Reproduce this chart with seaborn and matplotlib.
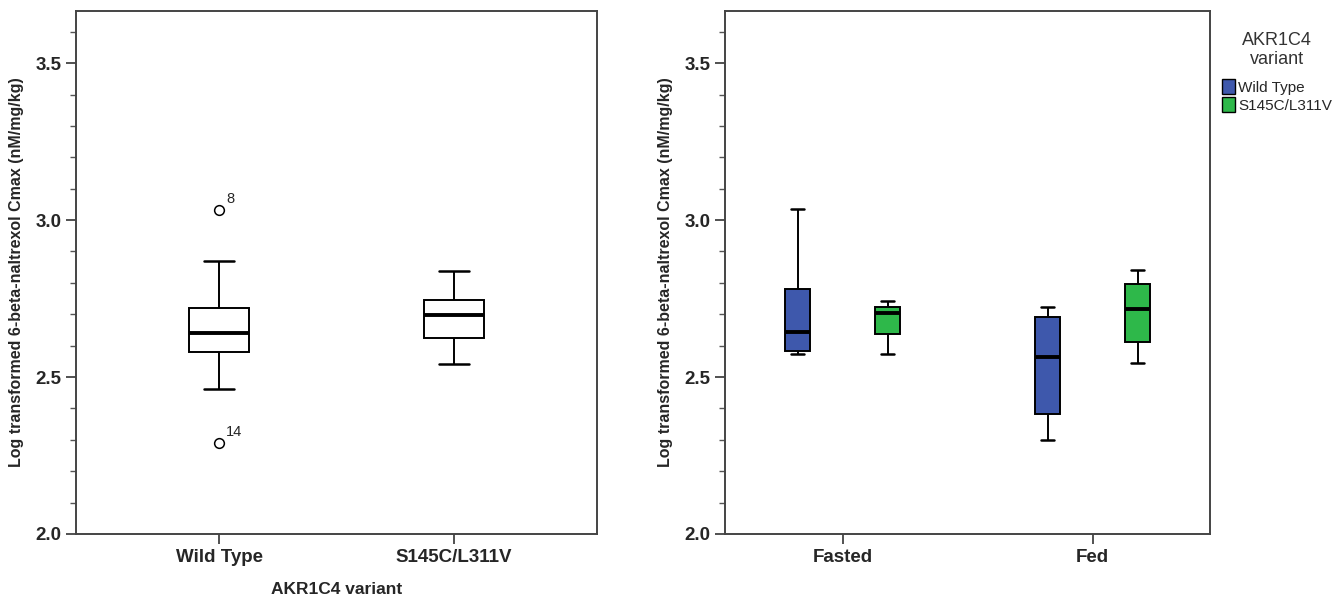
import numpy as np
import pandas as pd
import matplotlib
matplotlib.use("Agg")
import matplotlib.pyplot as plt
from matplotlib.ticker import MultipleLocator
from matplotlib.patches import Patch
import seaborn as sns

# left panel: all subjects by variant
variants = ["Wild Type", "S145C/L311V"]
wt_all = [2.290, 2.462, 2.580, 2.610, 2.640, 2.680, 2.720, 2.869, 3.032]
mut_all = [2.541, 2.624, 2.697, 2.745, 2.838]
outlier_ids = {"8": 3.032, "14": 2.290}

# right panel: by condition and variant
conditions = ["Fasted", "Fed"]
fasted_wt = [2.573, 2.583, 2.643, 2.780, 3.035]
fasted_mut = [2.573, 2.637, 2.704, 2.723, 2.742]
fed_wt = [2.299, 2.382, 2.564, 2.691, 2.723]
fed_mut = [2.545, 2.611, 2.717, 2.796, 2.841]

colors = ["#3E58AC", "#2EB84A"]
ylabel = "Log transformed 6-beta-naltrexol Cmax (nM/mg/kg)"

left_df = pd.DataFrame({
    "variant": [variants[0]] * len(wt_all) + [variants[1]] * len(mut_all),
    "cmax": wt_all + mut_all,
})

rows = []
for cond, wt, mut in [(conditions[0], fasted_wt, fasted_mut), (conditions[1], fed_wt, fed_mut)]:
    rows += [(cond, variants[0], v) for v in wt]
    rows += [(cond, variants[1], v) for v in mut]
right_df = pd.DataFrame(rows, columns=["condition", "variant", "cmax"])

sns.set_style("ticks")
plt.rcParams["font.family"] = ["Liberation Sans", "DejaVu Sans"]

fig = plt.figure(figsize=(13.39, 6), dpi=100)
ax1 = fig.add_axes([76 / 1339, 66 / 600, 521 / 1339, 523 / 600])
ax2 = fig.add_axes([725 / 1339, 66 / 600, 485 / 1339, 523 / 600])

line_kw = dict(
    linecolor="black", linewidth=1.4,
    medianprops={"linewidth": 2.8, "color": "black"},
    whiskerprops={"linewidth": 1.4},
    capprops={"linewidth": 1.8},
)

sns.boxplot(data=left_df, x="variant", y="cmax", order=variants, ax=ax1,
            color="white", saturation=1, width=0.255,
            flierprops={"marker": "o", "markersize": 7, "markerfacecolor": "white",
                        "markeredgecolor": "black", "markeredgewidth": 1.1},
            **line_kw)
for lab, val in outlier_ids.items():
    ax1.text(0.03, val + 0.012, lab, fontsize=10.5, ha="left", va="bottom")

sns.boxplot(data=right_df, x="condition", y="cmax", hue="variant", order=conditions,
            hue_order=variants, palette=colors, ax=ax2, saturation=1,
            width=0.72, gap=0.73, legend=False, **line_kw)

for ax in (ax1, ax2):
    ax.set_ylim(2.0, 3.666)
    ax.yaxis.set_major_locator(MultipleLocator(0.5))
    ax.yaxis.set_minor_locator(MultipleLocator(0.1))
    ax.yaxis.set_major_formatter(matplotlib.ticker.FormatStrFormatter("%.1f"))
    ax.tick_params(axis="both", which="major", direction="out", length=7, width=1.2,
                   labelsize=13.5, color="#333333")
    ax.tick_params(axis="y", which="minor", direction="out", length=4, width=1.0, color="#555555")
    for lbl in ax.get_xticklabels() + ax.get_yticklabels():
        lbl.set_fontweight("bold")
    for sp in ax.spines.values():
        sp.set_visible(True)
        sp.set_color("#444444")
        sp.set_linewidth(1.4)
    ax.set_ylabel(ylabel, fontsize=11.5, fontweight="bold", labelpad=8)

ax1.set_xlim(-0.61, 1.61)
ax2.set_xlim(-0.47, 1.47)
ax1.set_xlabel("AKR1C4 variant", fontsize=12.5, fontweight="bold", labelpad=12)
ax2.set_xlabel("")

handles = [Patch(facecolor=c, edgecolor="black", linewidth=1.0) for c in colors]
leg = ax2.legend(handles, variants, title="AKR1C4\nvariant", loc="upper left",
                 bbox_to_anchor=(1.005, 0.978), frameon=False, fontsize=11,
                 handlelength=0.9, handleheight=1.1, handletextpad=0.2,
                 labelspacing=0.15, borderaxespad=0.2, borderpad=0.4)
leg.get_title().set_fontsize(13)
leg.get_title().set_color("#333333")
leg.get_title().set_multialignment("center")
leg._legend_box.sep = 8

fig.savefig("out.png", dpi=100)
